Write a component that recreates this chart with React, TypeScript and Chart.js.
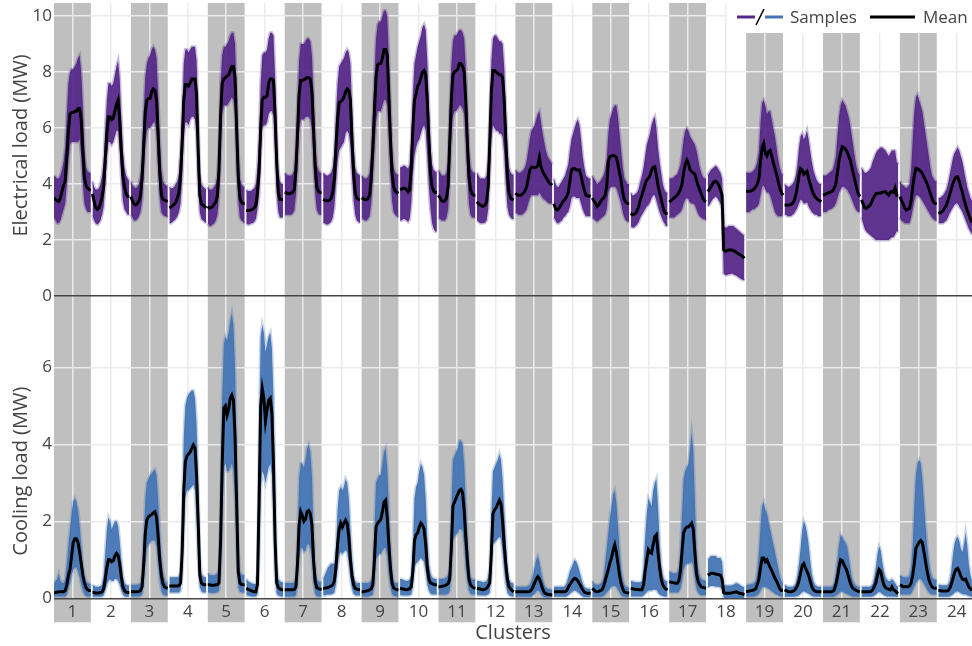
import React, { useEffect, useRef } from 'react';
import { Chart, registerables } from 'chart.js';

Chart.register(...registerables);
Chart.defaults.font.family = '"Open Sans", "DejaVu Sans", sans-serif';

// ---------- data ----------
const clusterLabels = ['1','2','3','4','5','6','7','8','9','10','11','12','13','14','15','16','17','18','19','20','21','22','23','24'];
const elecTicks = [0, 2, 4, 6, 8, 10];
const coolTicks = [0, 2, 4, 6];

// Electrical load: mean / upper envelope / lower envelope of samples (MW), 24 hours per cluster
const elecMean = [
  [3.5,3.45,3.4,3.38,3.5,3.75,3.95,4.1,5.0,5.9,6.5,6.55,6.55,6.6,6.6,6.7,6.7,6.3,5.2,4.2,3.95,3.85,3.8,3.78],
  [3.65,3.4,3.15,3.1,3.15,3.3,3.55,3.9,4.9,5.8,6.4,6.4,6.3,6.35,6.6,6.85,7.0,6.3,5.2,4.3,3.9,3.65,3.55,3.55],
  [3.55,3.4,3.28,3.25,3.3,3.4,3.6,4.2,5.4,6.6,7.0,7.05,7.05,7.3,7.4,7.35,7.0,5.8,4.4,3.6,3.45,3.42,3.4,3.38],
  [3.15,3.18,3.22,3.28,3.35,3.5,3.7,4.3,5.5,7.0,7.55,7.55,7.5,7.6,7.75,7.75,7.75,7.2,5.2,3.6,3.3,3.25,3.2,3.15],
  [3.2,3.13,3.15,3.2,3.28,3.35,3.6,4.5,6.5,7.6,7.75,7.8,7.85,7.9,8.05,8.2,8.2,7.8,6.0,4.3,3.5,3.35,3.3,3.3],
  [3.07,3.05,3.05,3.08,3.1,3.15,3.25,3.7,4.4,6.0,7.0,7.1,7.1,7.15,7.6,7.75,7.75,7.7,6.5,4.8,3.7,3.45,3.45,3.45],
  [3.7,3.68,3.66,3.65,3.68,3.7,3.8,4.5,5.8,7.2,7.7,7.7,7.72,7.75,7.8,7.8,7.75,7.3,6.0,4.6,3.9,3.75,3.7,3.7],
  [3.45,3.42,3.4,3.4,3.42,3.5,3.7,4.2,5.3,6.3,6.9,6.95,7.0,7.1,7.3,7.4,7.35,7.0,5.6,4.4,3.7,3.5,3.45,3.43],
  [3.5,3.48,3.45,3.45,3.48,3.6,4.2,5.3,6.6,7.8,8.25,8.3,8.3,8.5,8.8,8.8,8.6,7.2,5.6,4.4,3.9,3.75,3.7,3.67],
  [3.8,3.82,3.85,3.85,3.8,3.72,3.8,4.6,6.0,7.0,7.2,7.5,7.6,7.8,8.0,8.05,7.9,7.0,5.6,4.4,3.9,3.75,3.7,3.7],
  [3.6,3.5,3.4,3.38,3.4,3.5,3.9,5.5,7.0,7.9,8.0,8.05,8.1,8.3,8.3,8.2,8.0,7.0,5.5,4.3,3.8,3.65,3.6,3.6],
  [3.37,3.3,3.25,3.22,3.2,3.25,3.35,3.9,5.5,7.3,8.05,8.05,8.0,7.95,7.9,7.9,7.8,7.0,5.6,4.3,3.7,3.5,3.45,3.43],
  [3.67,3.62,3.6,3.6,3.62,3.68,3.75,3.9,4.2,4.5,4.6,4.6,4.58,4.6,4.65,4.95,4.6,4.45,4.35,4.25,4.15,4.05,4.0,3.96],
  [3.3,3.12,3.07,3.12,3.2,3.3,3.4,3.45,3.55,3.7,4.1,4.5,4.55,4.55,4.5,4.5,4.5,4.3,4.0,3.8,3.6,3.57,3.57,3.57],
  [3.5,3.4,3.3,3.2,3.25,3.35,3.45,3.5,3.6,3.9,4.8,4.98,5.0,5.02,5.0,4.95,4.7,4.4,4.1,3.7,3.45,3.35,3.3,3.3],
  [2.95,2.9,2.92,2.95,3.05,3.2,3.45,3.6,3.8,4.0,4.15,4.2,4.3,4.5,4.6,4.62,4.3,3.95,3.7,3.45,3.2,3.0,2.95,2.95],
  [3.35,3.4,3.45,3.5,3.55,3.6,3.7,3.8,4.0,4.4,4.7,4.86,4.75,4.5,4.45,4.4,4.35,4.15,3.95,3.8,3.65,3.5,3.4,3.37],
  [3.73,3.8,3.9,4.0,4.08,4.1,4.05,3.95,3.8,3.6,1.65,1.6,1.62,1.64,1.64,1.64,1.62,1.6,1.55,1.52,1.48,1.45,1.4,1.35],
  [3.73,3.73,3.74,3.75,3.78,3.82,3.9,4.0,4.2,4.8,5.3,5.45,5.1,5.0,5.15,5.2,5.0,4.75,4.55,4.35,4.1,3.85,3.7,3.6],
  [3.25,3.25,3.24,3.25,3.27,3.3,3.4,3.6,3.9,4.3,4.55,4.5,4.35,4.4,4.45,4.2,4.0,3.8,3.65,3.55,3.48,3.43,3.4,3.37],
  [3.6,3.62,3.65,3.67,3.7,3.72,3.75,3.85,4.0,4.4,4.85,5.1,5.33,5.3,5.25,5.15,5.0,4.85,4.6,4.35,4.1,3.85,3.65,3.55],
  [3.43,3.3,3.15,3.13,3.18,3.22,3.3,3.45,3.55,3.65,3.67,3.67,3.68,3.7,3.72,3.73,3.65,3.6,3.7,3.73,3.7,3.85,3.6,3.6],
  [3.55,3.4,3.3,3.15,3.07,3.1,3.13,3.4,3.9,4.3,4.56,4.55,4.5,4.45,4.38,4.25,4.14,4.0,3.85,3.65,3.5,3.35,3.3,3.3],
  [2.95,2.97,3.0,3.05,3.15,3.25,3.4,3.6,3.8,4.0,4.15,4.25,4.26,4.1,3.9,3.7,3.45,3.25,3.05,2.9,2.75,2.62,2.55,2.5],
];

const elecHigh = [
  [4.3,4.25,4.2,4.2,4.3,4.5,4.8,5.3,6.5,7.6,8.0,8.1,8.1,8.2,8.3,8.5,8.6,8.0,6.8,5.2,4.6,4.45,4.4,4.4],
  [4.1,3.9,3.8,3.8,3.85,4.0,4.3,4.8,6.0,7.0,7.6,7.6,7.5,7.6,7.9,8.2,8.4,7.8,6.4,5.2,4.6,4.3,4.2,4.1],
  [4.1,3.95,3.9,3.85,3.9,4.0,4.3,5.0,6.6,7.8,8.3,8.5,8.6,8.8,8.9,8.8,8.5,7.2,5.6,4.5,4.1,4.0,3.95,3.9],
  [3.9,3.85,3.85,3.9,4.0,4.1,4.4,5.2,6.6,8.3,8.8,8.8,8.7,8.8,8.9,8.9,8.9,8.4,6.4,4.4,4.0,3.9,3.85,3.8],
  [3.9,3.8,3.8,3.8,3.9,4.0,4.3,5.4,7.6,8.6,8.9,8.9,9.0,9.1,9.3,9.4,9.4,9.0,7.2,5.2,4.2,4.0,3.9,3.9],
  [3.8,3.75,3.75,3.75,3.8,3.85,4.0,4.6,5.6,7.6,8.6,8.7,8.7,8.8,9.2,9.4,9.4,9.3,7.8,5.8,4.5,4.1,4.0,4.0],
  [4.4,4.35,4.3,4.3,4.3,4.35,4.5,5.3,6.9,8.4,9.0,9.0,9.0,9.1,9.2,9.2,9.1,8.6,7.2,5.6,4.7,4.5,4.4,4.4],
  [4.4,4.35,4.3,4.3,4.35,4.4,4.6,5.2,6.5,7.6,8.2,8.3,8.4,8.5,8.7,8.8,8.7,8.3,6.8,5.4,4.6,4.4,4.35,4.3],
  [4.3,4.25,4.2,4.2,4.25,4.4,5.0,6.3,7.8,9.2,9.7,9.8,9.8,10.0,10.2,10.2,10.0,8.6,6.8,5.3,4.6,4.4,4.35,4.3],
  [4.6,4.6,4.65,4.65,4.6,4.55,4.7,5.6,7.2,8.3,8.6,8.9,9.1,9.3,9.6,9.7,9.5,8.4,6.8,5.4,4.7,4.5,4.45,4.4],
  [4.5,4.4,4.3,4.3,4.3,4.4,4.8,6.6,8.2,9.1,9.3,9.3,9.4,9.5,9.5,9.4,9.2,8.2,6.6,5.2,4.6,4.45,4.4,4.4],
  [4.4,4.3,4.2,4.2,4.2,4.2,4.3,4.9,6.6,8.4,9.2,9.3,9.3,9.2,9.1,9.1,9.0,8.2,6.7,5.3,4.6,4.4,4.35,4.3],
  [4.5,4.45,4.4,4.4,4.45,4.5,4.6,4.8,5.2,5.6,5.9,6.0,6.1,6.3,6.5,6.6,6.2,5.8,5.5,5.2,5.0,4.9,4.8,4.7],
  [4.2,4.0,3.9,3.9,4.0,4.1,4.2,4.3,4.5,4.7,5.2,5.6,5.8,6.0,6.2,6.3,6.1,5.6,5.0,4.6,4.3,4.25,4.2,4.2],
  [4.3,4.2,4.1,4.0,4.05,4.1,4.2,4.3,4.5,4.9,5.8,6.3,6.5,6.7,6.8,6.8,6.4,5.8,5.2,4.6,4.2,4.1,4.0,4.0],
  [3.7,3.6,3.6,3.65,3.7,3.85,4.1,4.3,4.6,5.0,5.4,5.6,5.8,6.1,6.3,6.4,6.0,5.3,4.8,4.4,4.0,3.8,3.7,3.7],
  [4.2,4.2,4.2,4.25,4.3,4.35,4.5,4.7,5.1,5.6,5.9,6.0,5.9,5.7,5.6,5.5,5.4,5.2,4.9,4.6,4.4,4.25,4.2,4.2],
  [4.3,4.4,4.5,4.55,4.6,4.65,4.6,4.5,4.4,4.2,2.5,2.45,2.45,2.5,2.5,2.5,2.5,2.45,2.4,2.35,2.3,2.25,2.2,2.15],
  [4.4,4.4,4.4,4.4,4.45,4.5,4.6,4.8,5.2,6.2,6.9,7.0,6.8,6.5,6.6,6.6,6.3,6.0,5.7,5.3,4.9,4.6,4.4,4.3],
  [4.0,3.95,3.9,3.9,3.95,4.0,4.1,4.3,4.7,5.3,5.7,5.8,5.6,5.7,5.9,5.6,5.2,4.8,4.5,4.3,4.15,4.05,4.0,4.0],
  [4.3,4.3,4.3,4.35,4.4,4.45,4.5,4.7,5.0,5.7,6.4,6.8,7.0,6.9,6.8,6.6,6.4,6.1,5.7,5.3,4.9,4.6,4.4,4.3],
  [4.6,4.5,4.4,4.4,4.45,4.5,4.6,4.8,4.95,5.1,5.2,5.25,5.3,5.3,5.25,5.2,5.1,5.0,5.1,5.2,5.2,5.2,4.8,4.7],
  [4.1,4.0,3.95,3.9,3.85,3.9,4.0,4.5,5.6,6.6,7.1,7.2,7.0,6.8,6.6,6.2,5.8,5.4,5.0,4.6,4.3,4.2,4.1,4.1],
  [3.5,3.5,3.55,3.6,3.7,3.8,4.0,4.3,4.6,4.9,5.1,5.2,5.3,5.2,5.0,4.8,4.5,4.2,3.9,3.7,3.5,3.4,3.3,3.2],
];

const elecLow = [
  [2.8,2.7,2.6,2.6,2.7,2.9,3.1,3.3,4.0,4.8,5.4,5.5,5.5,5.5,5.5,5.5,5.6,5.0,4.0,3.3,3.1,3.0,3.0,3.0],
  [2.9,2.7,2.6,2.55,2.6,2.7,2.9,3.2,4.0,4.9,5.5,5.5,5.4,5.5,5.7,5.9,5.9,5.2,4.2,3.4,3.1,3.0,2.9,2.9],
  [2.9,2.8,2.7,2.7,2.75,2.85,3.0,3.4,4.4,5.4,5.9,6.0,6.0,6.1,6.2,6.2,5.8,4.6,3.5,3.0,2.9,2.85,2.85,2.8],
  [2.6,2.6,2.65,2.7,2.75,2.85,3.0,3.3,4.2,5.6,6.2,6.2,6.1,6.3,6.4,6.4,6.3,5.7,3.9,3.0,2.75,2.7,2.65,2.6],
  [2.6,2.5,2.5,2.55,2.6,2.7,2.9,3.6,5.2,6.5,6.8,6.8,6.8,6.9,7.0,7.1,7.0,6.5,4.7,3.4,2.8,2.7,2.65,2.6],
  [2.6,2.55,2.55,2.6,2.6,2.65,2.75,3.1,3.6,5.0,6.0,6.1,6.1,6.2,6.5,6.6,6.6,6.4,5.1,3.7,3.0,2.8,2.8,2.8],
  [2.9,2.9,2.9,2.9,2.9,2.95,3.05,3.6,4.6,5.9,6.3,6.3,6.3,6.4,6.4,6.4,6.3,5.9,4.8,3.7,3.1,2.95,2.9,2.9],
  [2.6,2.6,2.55,2.55,2.6,2.65,2.8,3.2,4.0,4.8,5.2,5.3,5.4,5.5,5.8,5.9,5.8,5.4,4.3,3.4,2.9,2.7,2.65,2.6],
  [2.8,2.75,2.7,2.7,2.75,2.85,3.3,4.2,5.2,6.2,6.6,6.6,6.6,6.8,7.0,7.0,6.8,5.6,4.3,3.4,3.0,2.9,2.85,2.8],
  [2.7,2.7,2.75,2.75,2.7,2.65,2.75,3.3,4.3,5.0,5.3,5.5,5.6,5.8,6.0,6.1,5.9,5.0,3.9,3.1,2.6,2.4,2.3,2.3],
  [2.8,2.75,2.7,2.7,2.7,2.8,3.1,4.3,5.6,6.4,6.6,6.6,6.7,6.8,6.8,6.7,6.5,5.6,4.3,3.3,2.9,2.8,2.8,2.8],
  [2.7,2.65,2.6,2.6,2.6,2.62,2.7,3.1,4.3,5.6,6.1,6.0,5.9,5.9,5.8,5.8,5.7,5.1,4.0,3.2,2.9,2.8,2.75,2.75],
  [3.0,2.95,2.9,2.9,2.9,2.95,3.0,3.1,3.3,3.5,3.6,3.6,3.6,3.6,3.6,3.7,3.6,3.5,3.45,3.4,3.35,3.3,3.3,3.3],
  [2.8,2.7,2.6,2.6,2.65,2.7,2.8,2.85,2.95,3.0,3.2,3.5,3.55,3.55,3.5,3.5,3.5,3.3,3.1,2.95,2.85,2.85,2.85,2.85],
  [2.8,2.75,2.7,2.65,2.7,2.75,2.8,2.85,2.9,3.1,3.7,3.85,3.9,3.9,3.9,3.85,3.7,3.5,3.3,3.0,2.8,2.7,2.65,2.65],
  [2.5,2.45,2.45,2.5,2.55,2.65,2.8,2.9,3.0,3.1,3.2,3.25,3.35,3.5,3.6,3.6,3.4,3.2,3.0,2.85,2.7,2.6,2.5,2.5],
  [2.8,2.8,2.8,2.8,2.85,2.9,2.95,3.0,3.1,3.3,3.45,3.5,3.45,3.35,3.3,3.3,3.25,3.1,2.95,2.85,2.8,2.75,2.75,2.7],
  [3.2,3.25,3.35,3.45,3.5,3.55,3.5,3.4,3.3,3.1,0.8,0.75,0.75,0.78,0.78,0.8,0.78,0.75,0.72,0.68,0.64,0.6,0.58,0.55],
  [3.0,3.0,3.0,3.05,3.1,3.1,3.15,3.2,3.3,3.6,3.9,3.95,3.8,3.7,3.7,3.6,3.4,3.2,3.0,2.9,2.85,2.85,2.85,2.9],
  [2.9,2.9,2.85,2.85,2.85,2.9,2.95,3.05,3.15,3.3,3.45,3.4,3.3,3.3,3.35,3.2,3.1,3.0,2.95,2.9,2.9,2.85,2.85,2.85],
  [3.0,3.0,3.0,3.05,3.1,3.1,3.15,3.2,3.3,3.5,3.7,3.8,3.9,3.9,3.85,3.8,3.7,3.6,3.45,3.3,3.15,3.05,3.0,3.0],
  [2.8,2.6,2.4,2.3,2.25,2.2,2.15,2.1,2.05,2.0,2.0,2.0,2.0,2.0,2.0,2.0,2.0,2.0,2.05,2.1,2.1,2.2,2.3,2.3],
  [2.8,2.7,2.65,2.6,2.6,2.6,2.6,2.8,3.1,3.4,3.6,3.6,3.55,3.5,3.4,3.3,3.2,3.1,3.0,2.9,2.8,2.75,2.7,2.7],
  [2.6,2.6,2.6,2.6,2.65,2.7,2.8,2.95,3.05,3.15,3.25,3.3,3.3,3.2,3.1,3.0,2.85,2.7,2.55,2.4,2.3,2.2,2.15,2.1],
];

// Cooling load: mean / upper envelope / lower envelope of samples (MW)
const coolMean = [
  [0.15,0.15,0.16,0.17,0.17,0.17,0.17,0.2,0.35,0.6,0.75,1.1,1.45,1.55,1.55,1.45,1.2,0.9,0.6,0.4,0.28,0.22,0.2,0.2],
  [0.15,0.15,0.14,0.14,0.14,0.15,0.17,0.25,0.5,0.8,1.0,1.0,0.95,0.98,1.1,1.17,1.12,0.9,0.56,0.3,0.2,0.16,0.15,0.15],
  [0.17,0.17,0.17,0.17,0.17,0.18,0.2,0.3,0.9,1.7,2.05,2.12,2.15,2.18,2.22,2.25,2.1,1.6,1.0,0.6,0.38,0.3,0.27,0.26],
  [0.32,0.32,0.32,0.32,0.32,0.32,0.33,0.4,1.2,2.8,3.55,3.7,3.75,3.8,3.9,3.98,3.9,3.2,2.0,0.6,0.4,0.36,0.35,0.35],
  [0.35,0.35,0.34,0.34,0.34,0.35,0.35,0.4,1.5,3.5,4.95,5.0,4.75,4.9,5.2,5.28,5.15,4.2,2.5,0.7,0.4,0.36,0.35,0.35],
  [0.26,0.24,0.22,0.2,0.18,0.17,0.17,0.35,2.5,5.0,5.45,5.2,4.6,4.9,5.15,5.2,4.8,3.5,1.5,0.4,0.28,0.25,0.22,0.22],
  [0.22,0.22,0.22,0.22,0.22,0.22,0.23,0.3,0.9,1.9,2.25,2.15,2.0,2.05,2.25,2.28,2.2,1.9,1.0,0.45,0.28,0.25,0.24,0.23],
  [0.26,0.26,0.27,0.28,0.3,0.32,0.35,0.45,0.8,1.4,1.8,1.95,1.85,1.95,2.03,1.95,1.6,1.0,0.6,0.35,0.26,0.24,0.22,0.22],
  [0.17,0.17,0.18,0.19,0.2,0.22,0.25,0.35,1.0,1.85,1.95,2.0,2.05,2.25,2.5,2.55,2.1,1.4,0.8,0.4,0.27,0.24,0.22,0.22],
  [0.26,0.25,0.24,0.23,0.22,0.23,0.25,0.3,0.7,1.5,1.65,1.7,1.85,1.95,1.9,1.8,1.4,0.8,0.5,0.4,0.38,0.36,0.35,0.35],
  [0.3,0.3,0.31,0.32,0.33,0.35,0.38,0.5,1.3,2.4,2.5,2.6,2.7,2.8,2.83,2.75,2.3,1.6,1.0,0.5,0.35,0.3,0.27,0.26],
  [0.26,0.25,0.24,0.23,0.22,0.23,0.26,0.32,0.4,1.2,2.2,2.3,2.35,2.45,2.55,2.45,2.0,1.4,0.9,0.5,0.3,0.24,0.2,0.17],
  [0.17,0.17,0.17,0.17,0.17,0.17,0.17,0.17,0.17,0.18,0.22,0.3,0.4,0.5,0.56,0.5,0.38,0.25,0.15,0.12,0.1,0.1,0.09,0.09],
  [0.17,0.17,0.17,0.17,0.17,0.17,0.17,0.17,0.2,0.28,0.36,0.42,0.48,0.52,0.5,0.45,0.38,0.3,0.22,0.16,0.14,0.13,0.13,0.13],
  [0.26,0.22,0.18,0.17,0.18,0.2,0.22,0.3,0.45,0.6,0.75,0.92,1.05,1.25,1.39,1.2,0.9,0.6,0.38,0.25,0.17,0.15,0.14,0.13],
  [0.26,0.25,0.24,0.23,0.23,0.22,0.22,0.22,0.35,0.7,1.0,1.26,1.2,1.17,1.4,1.6,1.65,1.2,0.8,0.5,0.35,0.28,0.24,0.23],
  [0.43,0.42,0.41,0.4,0.39,0.39,0.45,0.7,1.2,1.7,1.8,1.85,1.85,1.9,1.95,1.8,1.2,0.65,0.45,0.35,0.3,0.28,0.27,0.26],
  [0.6,0.62,0.65,0.65,0.64,0.63,0.62,0.61,0.6,0.5,0.15,0.13,0.13,0.13,0.13,0.14,0.15,0.16,0.17,0.15,0.13,0.12,0.11,0.1],
  [0.17,0.18,0.19,0.2,0.21,0.22,0.25,0.35,0.5,0.8,1.05,1.05,0.95,1.0,0.9,0.8,0.72,0.62,0.52,0.45,0.35,0.25,0.2,0.2],
  [0.22,0.2,0.18,0.17,0.17,0.18,0.2,0.25,0.32,0.45,0.65,0.85,0.9,0.8,0.7,0.6,0.45,0.3,0.22,0.19,0.17,0.17,0.17,0.17],
  [0.17,0.17,0.17,0.17,0.17,0.17,0.18,0.22,0.35,0.55,0.8,1.0,0.98,0.88,0.8,0.7,0.55,0.4,0.3,0.25,0.22,0.2,0.18,0.17],
  [0.17,0.17,0.17,0.17,0.17,0.17,0.18,0.22,0.3,0.4,0.6,0.75,0.7,0.5,0.35,0.28,0.25,0.24,0.22,0.3,0.22,0.2,0.15,0.13],
  [0.35,0.33,0.3,0.3,0.3,0.3,0.32,0.4,0.6,0.9,1.3,1.38,1.45,1.5,1.45,1.2,0.95,0.7,0.5,0.38,0.3,0.27,0.26,0.26],
  [0.2,0.2,0.19,0.19,0.19,0.19,0.2,0.25,0.35,0.5,0.65,0.75,0.78,0.7,0.58,0.5,0.48,0.5,0.4,0.3,0.25,0.2,0.18,0.17],
];

const coolHigh = [
  [0.4,0.45,0.5,0.65,0.45,0.4,0.4,0.5,0.9,1.4,1.8,2.2,2.5,2.6,2.5,2.3,1.9,1.4,0.9,0.6,0.45,0.4,0.38,0.38],
  [0.35,0.32,0.3,0.3,0.3,0.32,0.35,0.6,1.2,1.8,2.1,2.0,1.8,1.9,2.0,2.0,1.9,1.5,1.0,0.6,0.4,0.35,0.33,0.33],
  [0.35,0.35,0.35,0.35,0.35,0.37,0.4,0.6,1.6,2.6,3.0,3.1,3.2,3.25,3.3,3.35,3.2,2.6,1.8,1.1,0.7,0.5,0.42,0.4],
  [0.55,0.55,0.55,0.55,0.55,0.55,0.57,0.7,2.0,4.2,5.0,5.2,5.3,5.35,5.4,5.4,5.2,4.5,3.0,1.1,0.65,0.58,0.55,0.55],
  [0.65,0.62,0.6,0.6,0.6,0.62,0.65,0.8,2.5,5.2,6.6,6.8,6.7,6.9,7.2,7.4,7.1,6.0,3.8,1.3,0.7,0.62,0.6,0.6],
  [0.5,0.45,0.42,0.4,0.38,0.37,0.38,0.7,4.0,6.8,7.1,6.9,6.4,6.6,6.8,6.9,6.5,5.2,2.8,0.9,0.5,0.45,0.42,0.42],
  [0.4,0.4,0.4,0.4,0.4,0.4,0.42,0.55,1.6,3.1,3.5,3.5,3.4,3.6,3.9,4.0,3.8,3.2,1.8,0.8,0.5,0.45,0.42,0.42],
  [0.5,0.6,0.7,0.8,0.85,0.9,0.9,0.9,1.3,2.3,2.8,2.9,2.8,2.9,3.1,3.0,2.6,1.8,1.1,0.6,0.45,0.4,0.4,0.4],
  [0.4,0.4,0.4,0.4,0.4,0.42,0.45,0.6,1.8,3.0,3.1,3.2,3.2,3.5,3.8,3.9,3.4,2.4,1.4,0.7,0.45,0.4,0.4,0.4],
  [0.5,0.5,0.48,0.46,0.45,0.46,0.48,0.6,1.3,2.6,2.9,3.0,3.3,3.5,3.4,3.2,2.6,1.6,0.9,0.65,0.55,0.52,0.5,0.5],
  [0.5,0.5,0.5,0.5,0.52,0.55,0.6,0.8,2.2,3.6,3.7,3.8,3.9,4.1,4.1,4.0,3.5,2.6,1.7,0.85,0.55,0.5,0.48,0.48],
  [0.45,0.45,0.44,0.43,0.42,0.43,0.45,0.55,0.8,2.2,3.3,3.4,3.5,3.6,3.75,3.6,3.1,2.3,1.5,0.8,0.5,0.42,0.4,0.38],
  [0.3,0.3,0.3,0.3,0.3,0.3,0.3,0.3,0.32,0.36,0.45,0.6,0.8,1.0,1.1,0.95,0.7,0.5,0.35,0.28,0.25,0.24,0.22,0.22],
  [0.3,0.3,0.3,0.3,0.3,0.3,0.3,0.32,0.4,0.55,0.7,0.8,0.9,1.0,0.95,0.85,0.7,0.55,0.4,0.3,0.27,0.25,0.25,0.25],
  [0.45,0.4,0.35,0.35,0.35,0.38,0.42,0.55,0.9,1.3,1.7,2.1,2.4,2.7,2.8,2.5,1.9,1.3,0.8,0.5,0.35,0.3,0.28,0.28],
  [0.45,0.44,0.43,0.42,0.42,0.42,0.42,0.45,0.8,1.6,2.2,2.6,2.5,2.4,2.8,3.0,3.1,2.4,1.5,0.9,0.6,0.48,0.45,0.45],
  [0.7,0.68,0.66,0.65,0.65,0.67,0.8,1.3,2.2,3.1,3.3,3.4,3.5,3.9,4.3,3.9,2.6,1.3,0.8,0.6,0.5,0.48,0.46,0.45],
  [1.0,1.05,1.1,1.1,1.1,1.1,1.05,1.05,1.05,0.95,0.35,0.33,0.33,0.33,0.33,0.34,0.35,0.38,0.4,0.38,0.35,0.32,0.3,0.28],
  [0.35,0.35,0.36,0.37,0.38,0.4,0.45,0.7,1.2,1.9,2.4,2.5,2.3,2.2,2.0,1.8,1.6,1.4,1.2,1.0,0.8,0.6,0.45,0.4],
  [0.35,0.33,0.3,0.3,0.3,0.3,0.33,0.4,0.6,0.9,1.3,1.75,2.0,1.9,1.7,1.4,1.0,0.65,0.45,0.35,0.32,0.3,0.3,0.3],
  [0.3,0.3,0.3,0.3,0.3,0.3,0.32,0.4,0.65,1.0,1.4,1.65,1.6,1.5,1.45,1.35,1.1,0.8,0.55,0.42,0.35,0.32,0.3,0.3],
  [0.3,0.3,0.3,0.3,0.3,0.3,0.32,0.38,0.55,0.8,1.15,1.35,1.25,0.95,0.7,0.55,0.48,0.45,0.45,0.5,0.45,0.4,0.32,0.3],
  [0.6,0.58,0.55,0.55,0.55,0.55,0.6,0.8,1.4,2.4,3.2,3.5,3.6,3.5,3.1,2.5,1.9,1.4,1.0,0.7,0.55,0.5,0.48,0.48],
  [0.35,0.35,0.34,0.34,0.34,0.34,0.36,0.45,0.7,1.1,1.4,1.55,1.6,1.5,1.3,1.2,1.4,1.7,1.4,0.9,0.6,0.45,0.4,0.38],
];

const coolLow = [
  [0.05,0.05,0.05,0.05,0.05,0.05,0.05,0.05,0.1,0.25,0.4,0.6,0.75,0.8,0.8,0.7,0.55,0.35,0.2,0.1,0.06,0.05,0.05,0.05],
  [0.04,0.04,0.04,0.04,0.04,0.04,0.05,0.08,0.2,0.35,0.45,0.5,0.45,0.45,0.5,0.5,0.45,0.35,0.2,0.1,0.05,0.04,0.04,0.04],
  [0.05,0.05,0.05,0.05,0.05,0.05,0.06,0.1,0.4,0.9,1.3,1.4,1.45,1.5,1.5,1.5,1.35,0.9,0.45,0.2,0.1,0.08,0.07,0.07],
  [0.15,0.15,0.15,0.15,0.15,0.15,0.15,0.2,0.6,1.6,2.6,2.8,2.8,2.85,2.9,2.95,2.8,2.0,1.0,0.3,0.18,0.15,0.15,0.15],
  [0.15,0.15,0.14,0.14,0.14,0.15,0.15,0.2,0.7,2.0,3.4,3.5,3.3,3.3,3.4,3.5,3.3,2.5,1.2,0.3,0.17,0.15,0.15,0.15],
  [0.08,0.07,0.06,0.05,0.05,0.05,0.05,0.1,1.0,2.8,3.3,3.2,3.0,3.2,3.4,3.5,3.2,2.1,0.6,0.12,0.07,0.06,0.05,0.05],
  [0.05,0.05,0.05,0.05,0.05,0.05,0.05,0.08,0.35,1.0,1.3,1.3,1.2,1.25,1.4,1.4,1.3,1.0,0.4,0.12,0.06,0.05,0.05,0.05],
  [0.08,0.08,0.09,0.1,0.1,0.1,0.12,0.15,0.35,0.8,1.1,1.2,1.15,1.2,1.25,1.2,0.9,0.5,0.25,0.12,0.08,0.07,0.07,0.07],
  [0.05,0.05,0.05,0.05,0.05,0.06,0.07,0.1,0.4,1.0,1.1,1.15,1.15,1.25,1.3,1.3,1.1,0.6,0.3,0.12,0.07,0.06,0.05,0.05],
  [0.08,0.08,0.07,0.07,0.07,0.07,0.08,0.1,0.3,0.8,0.9,0.95,1.0,1.05,1.0,0.95,0.7,0.35,0.2,0.12,0.1,0.1,0.1,0.1],
  [0.1,0.1,0.1,0.1,0.1,0.1,0.12,0.18,0.6,1.5,1.6,1.65,1.7,1.8,1.8,1.75,1.4,0.8,0.45,0.2,0.12,0.1,0.1,0.1],
  [0.08,0.08,0.08,0.07,0.07,0.07,0.08,0.1,0.15,0.6,1.4,1.45,1.5,1.55,1.6,1.55,1.2,0.7,0.35,0.15,0.08,0.06,0.05,0.05],
  [0.04,0.04,0.04,0.04,0.04,0.04,0.04,0.04,0.04,0.04,0.05,0.08,0.12,0.18,0.2,0.18,0.12,0.06,0.03,0.02,0.02,0.02,0.02,0.02],
  [0.04,0.04,0.04,0.04,0.04,0.04,0.04,0.04,0.05,0.08,0.12,0.15,0.18,0.2,0.18,0.15,0.12,0.08,0.05,0.03,0.03,0.03,0.03,0.03],
  [0.05,0.04,0.04,0.04,0.04,0.04,0.05,0.06,0.1,0.15,0.2,0.25,0.3,0.32,0.32,0.3,0.22,0.15,0.08,0.05,0.04,0.03,0.03,0.03],
  [0.05,0.05,0.05,0.05,0.05,0.05,0.05,0.05,0.07,0.12,0.16,0.2,0.2,0.2,0.22,0.22,0.22,0.15,0.1,0.07,0.06,0.05,0.05,0.05],
  [0.15,0.15,0.15,0.15,0.15,0.15,0.17,0.25,0.45,0.75,0.85,0.9,0.9,0.92,0.95,0.85,0.5,0.25,0.15,0.1,0.08,0.08,0.08,0.08],
  [0.28,0.3,0.32,0.32,0.32,0.3,0.3,0.3,0.28,0.22,0.02,0.01,0.01,0.01,0.01,0.01,0.01,0.01,0.01,0.01,0.01,0.01,0.01,0.01],
  [0.04,0.04,0.04,0.04,0.04,0.05,0.06,0.08,0.12,0.2,0.28,0.3,0.28,0.28,0.25,0.22,0.18,0.15,0.12,0.1,0.08,0.06,0.05,0.05],
  [0.04,0.04,0.04,0.04,0.04,0.04,0.04,0.05,0.06,0.08,0.12,0.16,0.18,0.16,0.14,0.12,0.09,0.06,0.05,0.04,0.04,0.04,0.04,0.04],
  [0.04,0.04,0.04,0.04,0.04,0.04,0.04,0.05,0.07,0.1,0.14,0.17,0.17,0.15,0.13,0.11,0.09,0.07,0.05,0.04,0.04,0.04,0.04,0.04],
  [0.04,0.04,0.04,0.04,0.04,0.04,0.04,0.05,0.07,0.1,0.14,0.17,0.15,0.11,0.08,0.06,0.05,0.05,0.05,0.05,0.04,0.04,0.04,0.04],
  [0.1,0.1,0.1,0.1,0.1,0.1,0.1,0.12,0.2,0.3,0.4,0.45,0.5,0.5,0.45,0.38,0.3,0.22,0.15,0.12,0.1,0.1,0.1,0.1],
  [0.04,0.04,0.04,0.04,0.04,0.04,0.04,0.05,0.07,0.1,0.14,0.17,0.18,0.16,0.13,0.11,0.1,0.1,0.08,0.06,0.05,0.04,0.04,0.04],
];

// ---------- helpers ----------
const HOURS = 24;
const PURPLE = '#542788';
const BLUE = '#4575b4';

function toPoints(clusters: number[][]) {
  const pts: { x: number; y: number | null }[] = [];
  clusters.forEach((vals, k) => {
    vals.forEach((v, h) => pts.push({ x: k * HOURS + h, y: v }));
    pts.push({ x: k * HOURS + HOURS - 0.5, y: null });
  });
  return pts;
}

const bandsPlugin = {
  id: 'bands',
  beforeDraw(chart: any) {
    const { ctx, chartArea, scales } = chart;
    const xs = scales.x;
    ctx.save();
    ctx.fillStyle = '#bfbfbf';
    clusterLabels.forEach((_, k) => {
      if (k % 2 !== 0) return;
      const x0 = xs.getPixelForValue(k * HOURS);
      const x1 = xs.getPixelForValue(k * HOURS + HOURS - 1);
      ctx.fillRect(x0, chartArea.top, x1 - x0, chartArea.bottom + 24 - chartArea.top);
    });
    ctx.restore();
  },
};

const overlayPlugin = {
  id: 'overlay',
  afterDraw(chart: any) {
    const { ctx, scales } = chart;
    const W = chart.width;
    ctx.save();
    // y-axis titles
    ctx.fillStyle = '#444';
    ctx.font = '20px "Open Sans", sans-serif';
    ctx.textAlign = 'center';
    ctx.textBaseline = 'middle';
    const yE = scales.yE;
    const yC = scales.yC;
    ctx.save();
    ctx.translate(21, (yE.top + yE.bottom) / 2 - 4);
    ctx.rotate(-Math.PI / 2);
    ctx.fillText('Electrical load (MW)', 0, 0);
    ctx.restore();
    ctx.save();
    ctx.translate(21, (yC.top + yC.bottom) / 2 + 24);
    ctx.rotate(-Math.PI / 2);
    ctx.fillText('Cooling load (MW)', 0, 0);
    ctx.restore();

    // legend
    const lx = W - 245;
    ctx.fillStyle = '#ffffff';
    ctx.fillRect(lx, 0, 245, 33);
    const ly = 17;
    ctx.lineCap = 'butt';
    ctx.lineWidth = 3;
    ctx.strokeStyle = PURPLE;
    ctx.beginPath(); ctx.moveTo(lx + 10, ly); ctx.lineTo(lx + 28, ly); ctx.stroke();
    ctx.strokeStyle = BLUE;
    ctx.beginPath(); ctx.moveTo(lx + 38, ly); ctx.lineTo(lx + 56, ly); ctx.stroke();
    ctx.strokeStyle = '#000';
    ctx.lineWidth = 1.5;
    ctx.beginPath(); ctx.moveTo(lx + 29, ly + 8); ctx.lineTo(lx + 37, ly - 8); ctx.stroke();
    ctx.fillStyle = '#444';
    ctx.font = '17px "Open Sans", sans-serif';
    ctx.textAlign = 'left';
    ctx.fillText('Samples', lx + 63, ly + 1);
    ctx.strokeStyle = '#000';
    ctx.lineWidth = 3;
    ctx.beginPath(); ctx.moveTo(lx + 143, ly); ctx.lineTo(lx + 188, ly); ctx.stroke();
    ctx.fillText('Mean', lx + 196, ly + 1);
    ctx.restore();
  },
};

export default function App() {
  const ref = useRef<HTMLCanvasElement>(null);

  useEffect(() => {
    if (!ref.current) return;
    const gridColor = (c: any) => (c.tick && c.tick.value === 0 ? '#444' : '#ebebeb');
    const fitY = (s: any) => { s.width = 54; s.paddingTop = 0; s.paddingBottom = 0; };
    const chart = new Chart(ref.current, {
      type: 'line',
      data: {
        datasets: [
          { label: 'Mean E', data: toPoints(elecMean), yAxisID: 'yE', borderColor: '#000', borderWidth: 3, pointRadius: 0, fill: false, spanGaps: false, tension: 0 },
          { label: 'Mean C', data: toPoints(coolMean), yAxisID: 'yC', borderColor: '#000', borderWidth: 3, pointRadius: 0, fill: false, spanGaps: false, tension: 0 },
          { label: 'Samples E hi', data: toPoints(elecHigh), yAxisID: 'yE', borderColor: 'rgba(84,39,136,0.3)', borderWidth: 3, backgroundColor: 'rgba(84,39,136,0.94)', pointRadius: 0, fill: '+1', spanGaps: false, tension: 0 },
          { label: 'Samples E lo', data: toPoints(elecLow), yAxisID: 'yE', borderColor: 'rgba(84,39,136,0.3)', borderWidth: 3, pointRadius: 0, fill: false, spanGaps: false, tension: 0 },
          { label: 'Samples C hi', data: toPoints(coolHigh), yAxisID: 'yC', borderColor: 'rgba(69,117,180,0.3)', borderWidth: 3, backgroundColor: 'rgba(69,117,180,0.95)', pointRadius: 0, fill: '+1', spanGaps: false, tension: 0 },
          { label: 'Samples C lo', data: toPoints(coolLow), yAxisID: 'yC', borderColor: 'rgba(69,117,180,0.3)', borderWidth: 3, pointRadius: 0, fill: false, spanGaps: false, tension: 0 },
        ],
      },
      options: {
        animation: false,
        responsive: false,
        maintainAspectRatio: false,
        devicePixelRatio: 1,
        layout: { padding: { top: 3, left: 0, right: 0, bottom: 0 } },
        plugins: { legend: { display: false }, tooltip: { enabled: false } },
        scales: {
          x: {
            type: 'linear',
            position: 'bottom',
            min: 0,
            max: 573,
            afterBuildTicks: (s: any) => { s.ticks = clusterLabels.map((_, k) => ({ value: k * HOURS + 11.5 })); },
            afterFit: (s: any) => { s.height = 47.7; s.paddingLeft = 0; s.paddingRight = 0; },
            ticks: { autoSkip: false, maxRotation: 0, minRotation: 0, padding: 4, color: '#444', font: { size: 17 }, callback: (_v: any, i: number) => clusterLabels[i] },
            grid: { color: '#ebebeb', lineWidth: 1.5, drawTicks: false },
            border: { display: false },
            title: { display: true, text: 'Clusters', color: '#444', font: { size: 20 }, padding: { top: 0, bottom: 1 } },
          },
          yC: {
            type: 'linear',
            position: 'left',
            stack: 'panels',
            stackWeight: 302.3,
            min: 0,
            max: 7.852,
            afterBuildTicks: (s: any) => { s.ticks = coolTicks.map((v) => ({ value: v })); },
            afterFit: fitY,
            ticks: { padding: 2, color: '#444', font: { size: 17 } },
            grid: { color: gridColor, lineWidth: 1.5, drawTicks: false },
            border: { display: false },
          },
          yE: {
            type: 'linear',
            position: 'left',
            stack: 'panels',
            stackWeight: 293,
            min: 0,
            max: 10.464,
            afterBuildTicks: (s: any) => { s.ticks = elecTicks.map((v) => ({ value: v })); },
            afterFit: fitY,
            ticks: { padding: 2, color: '#444', font: { size: 17 } },
            grid: { color: gridColor, lineWidth: 1.5, drawTicks: false },
            border: { display: false },
          },
        },
      } as any,
      plugins: [bandsPlugin, overlayPlugin],
    });
    return () => chart.destroy();
  }, []);

  return (
    <div style={{ position: 'absolute', left: 0, top: 0, width: 972, height: 646, background: '#fff' }}>
      <canvas ref={ref} width={972} height={646} style={{ display: 'block', width: 972, height: 646 }} />
    </div>
  );
}
